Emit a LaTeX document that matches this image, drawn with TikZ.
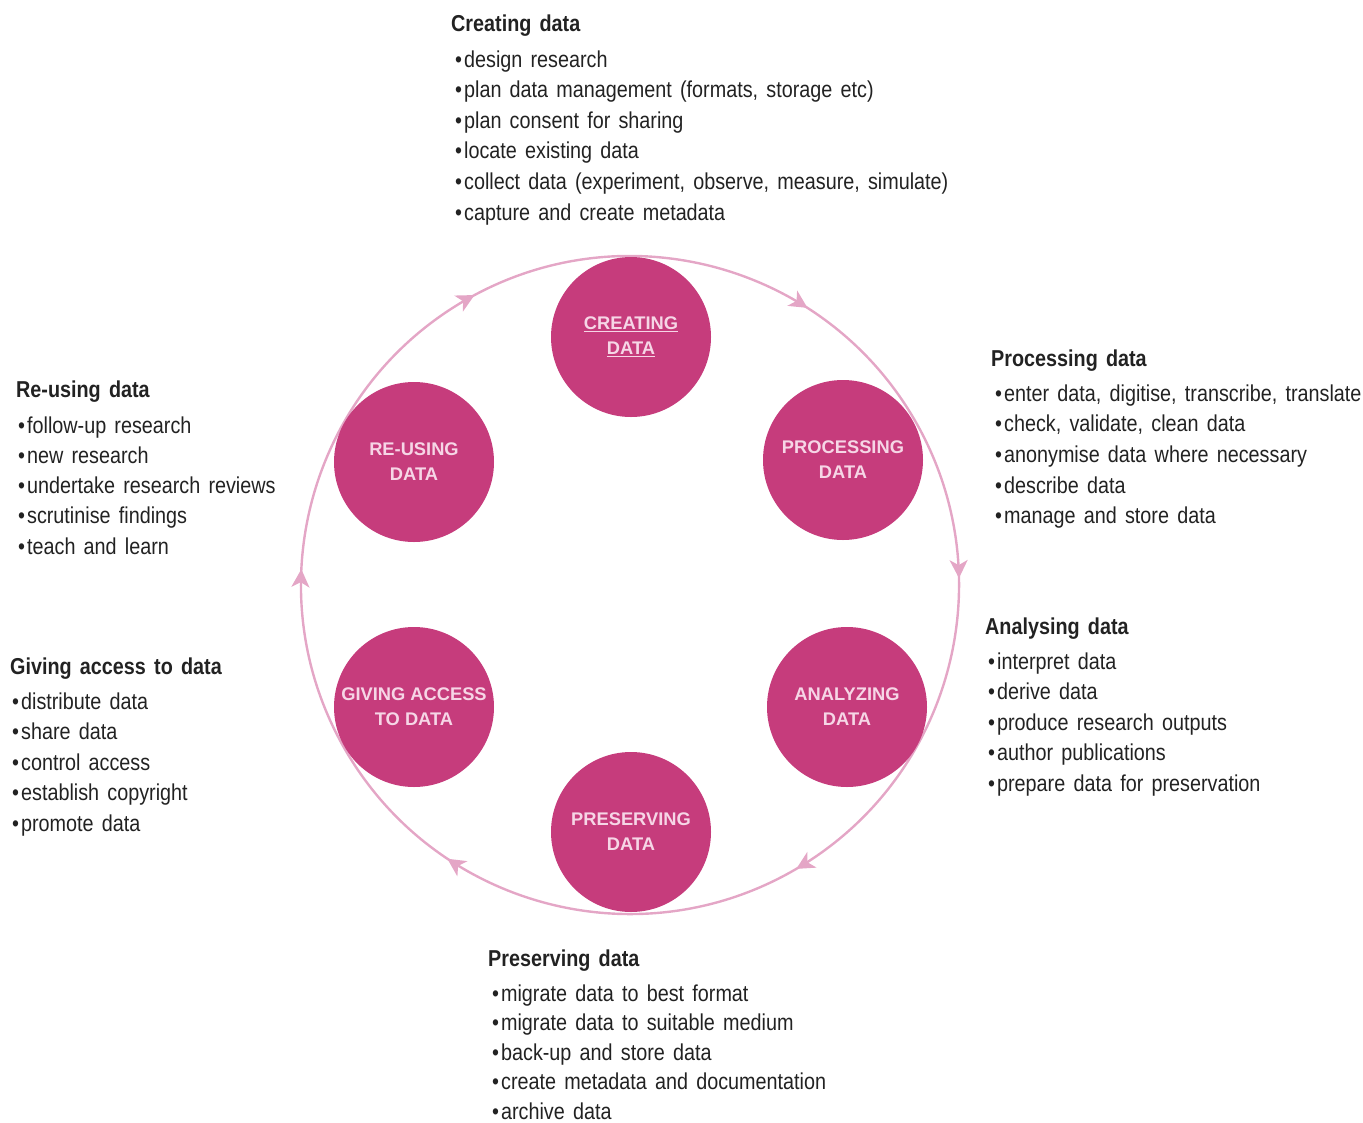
\documentclass[tikz,border=0pt]{standalone}
\usepackage{fontspec}
\setmainfont{Liberation Sans}
\newfontfamily\narrowfont[FakeStretch=0.86,WordSpace=1.5]{Liberation Sans}
\usetikzlibrary{arrows.meta,decorations.markings}
\definecolor{stagecol}{HTML}{C63C7C}
\definecolor{stagetxt}{HTML}{F6D6E6}
\definecolor{ringcol}{HTML}{E4A6C6}
\definecolor{txtcol}{HTML}{222222}
\tikzset{rtip/.tip={Stealth[length=18pt,width=18pt,inset=5pt,color=ringcol]}}
\begin{document}
\begin{tikzpicture}[x=1pt,y=-1pt,
  stage/.style={circle,fill=stagecol,minimum size=160pt,inner sep=0pt,text=stagetxt,
    align=center,font=\fontsize{18.3}{25}\selectfont\bfseries},
  head/.style={anchor=base west,inner sep=0pt,text=txtcol,font=\narrowfont\fontsize{23}{28}\selectfont\bfseries},
  item/.style={anchor=base west,inner sep=0pt,text=txtcol,font=\narrowfont\fontsize{23}{28}\selectfont},
  ring/.style={draw=ringcol,line width=2.4pt}]
\useasboundingbox (0,0) rectangle (1363,1122);
% ring
\coordinate (ringc) at (630,585);
\draw[ring,postaction=decorate,decoration={markings,
   mark=at position 0.080 with {\arrow{rtip}},
   mark=at position 0.249 with {\arrow{rtip}},
   mark=at position 0.427 with {\arrow{rtip}},
   mark=at position 0.591 with {\arrow{rtip}},
   mark=at position 0.755 with {\arrow{rtip}},
   mark=at position 0.924 with {\arrow{rtip}}}]
  (ringc) ++(-30:329) arc[start angle=-30,end angle=330,radius=329];
% stages
\node[stage] (cre) at (631,337) {\underline{CREATING}\\\underline{DATA}};
\node[stage] (pro) at (843,460) {PROCESSING\\DATA};
\node[stage] (ana) at (847,707) {ANALYZING\\DATA};
\node[stage] (pre) at (631,832) {PRESERVING\\DATA};
\node[stage] (giv) at (414,707) {GIVING ACCESS\\TO DATA};
\node[stage] (reu) at (414,462) {RE-USING\\DATA};
% text blocks
\node[head] (creH) at (451,31) {Creating data};
\foreach \t [count=\i] in {{design research},{plan data management (formats, storage etc)},{plan consent for sharing},{locate existing data},{collect data (experiment, observe, measure, simulate)},{capture and create metadata}}
  \node[item] (creI\i) at ({455},{67+30.6*(\i-1)}) {\textbullet\kern2pt\t};
\node[head] (proH) at (991,366) {Processing data};
\foreach \t [count=\i] in {{enter data, digitise, transcribe, translate},{check, validate, clean data},{anonymise data where necessary},{describe data},{manage and store data}}
  \node[item] (proI\i) at ({995},{401+30.7*(\i-1)}) {\textbullet\kern2pt\t};
\node[head] (reuH) at (16,397) {Re-using data};
\foreach \t [count=\i] in {{follow-up research},{new research},{undertake research reviews},{scrutinise findings},{teach and learn}}
  \node[item] (reuI\i) at ({18},{433+30.3*(\i-1)}) {\textbullet\kern2pt\t};
\node[head] (givH) at (10,674) {Giving access to data};
\foreach \t [count=\i] in {{distribute data},{share data},{control access},{establish copyright},{promote data}}
  \node[item] (givI\i) at ({12},{709+30.5*(\i-1)}) {\textbullet\kern2pt\t};
\node[head] (anaH) at (985,634) {Analysing data};
\foreach \t [count=\i] in {{interpret data},{derive data},{produce research outputs},{author publications},{prepare data for preservation}}
  \node[item] (anaI\i) at ({988},{669+30.5*(\i-1)}) {\textbullet\kern2pt\t};
\node[head] (preH) at (488,966) {Preserving data};
\foreach \t [count=\i] in {{migrate data to best format},{migrate data to suitable medium},{back-up and store data},{create metadata and documentation},{archive data}}
  \node[item] (preI\i) at ({492},{1001+29.6*(\i-1)}) {\textbullet\kern2pt\t};
\end{tikzpicture}
\end{document}
